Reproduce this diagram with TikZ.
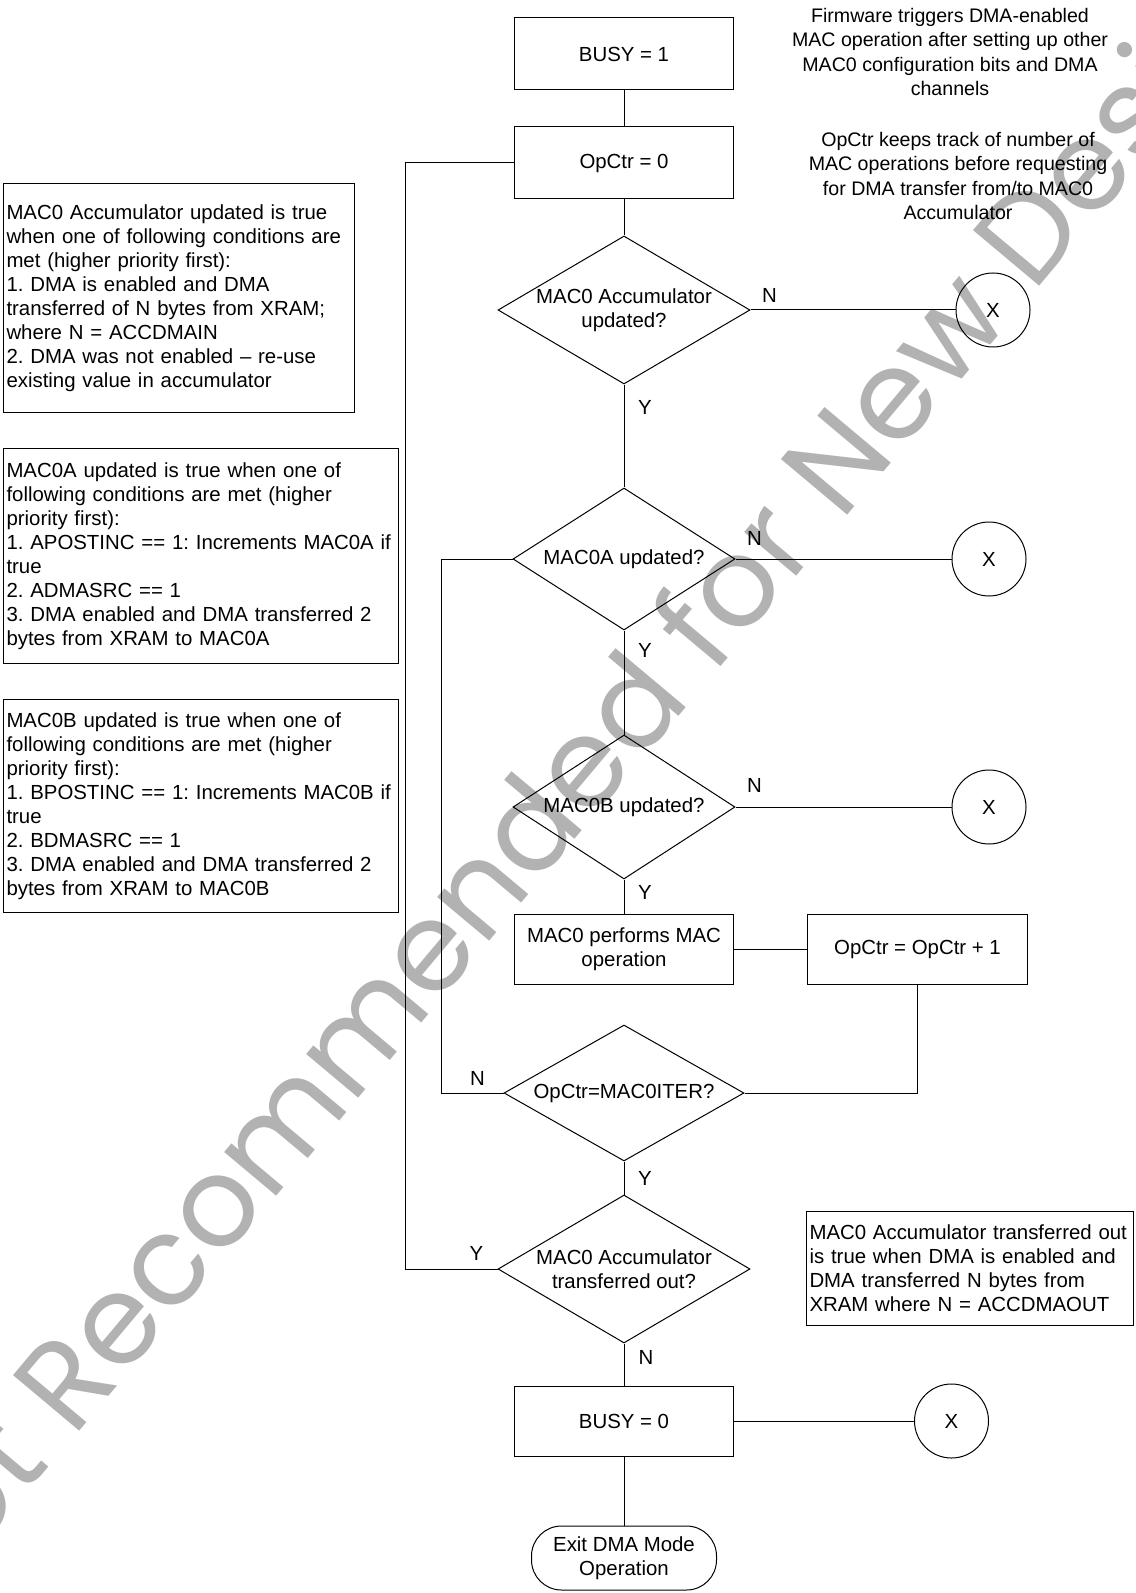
\documentclass[tikz,border=0pt]{standalone}
\usepackage{fontspec}
\setmainfont{Liberation Sans}
\newfontfamily\wmfont{Poppins}
\usetikzlibrary{positioning,shapes.geometric}
\frenchspacing

\begin{document}
\begin{tikzpicture}[
  x=0.5pt, y=-0.5pt,
  font=\fontsize{10.2}{12}\selectfont,
  line width=0.5pt,
  proc/.style={draw, align=center, minimum width=109.5pt, minimum height=36pt, inner sep=2pt},
  dec/.style={draw, diamond, align=center, shape aspect=1.7, inner sep=-2pt},
  conn/.style={draw, circle, minimum size=37pt, inner sep=0pt},
  term/.style={draw, rounded corners=15pt, align=center, minimum width=92.5pt, minimum height=32pt, inner sep=2pt},
  note/.style={draw, anchor=north west, align=left, inner xsep=1.5pt, inner ysep=2pt},
  free/.style={align=center, inner sep=0pt, font=\fontsize{9.8}{12.2}\selectfont},
  lbl/.style={inner sep=0pt},
  wm/.style={font=\wmfont\fontsize{62}{68}\selectfont, text=black!30, rotate=50, inner sep=0pt},
]
\useasboundingbox (0,0) rectangle (1135,1593);
\node[wm] (wmark) at (608,753) {Not Recommended for New Designs};

\node[proc] (busy1) at (624,54) {BUSY = 1};
\node[proc, below=18pt of busy1] (opctr0) {OpCtr = 0};
\node[dec, below=18pt of opctr0, minimum width=126pt, minimum height=74pt] (accupd) {MAC0 Accumulator\\updated?};
\node[dec, below=51.5pt of accupd, minimum width=111pt, minimum height=71pt] (aupd) {MAC0A updated?};
\node[dec, below=52pt of aupd, minimum width=111pt, minimum height=72pt] (bupd) {MAC0B updated?};
\node[proc, below=17pt of bupd, minimum height=35pt] (mac) {MAC0 performs MAC\\operation};
\node[proc, right=36.5pt of mac, minimum width=110pt, minimum height=35pt] (inc) {OpCtr = OpCtr + 1};
\node[dec, below=20pt of mac, minimum width=120pt, minimum height=68pt] (iter) {OpCtr=MAC0ITER?};
\node[dec, below=16.5pt of iter, minimum width=126pt, minimum height=74pt] (accout) {MAC0 Accumulator\\transferred out?};
\node[proc, below=21pt of accout, minimum height=35pt] (busy0) {BUSY = 0};
\node[term, below=34.5pt of busy0] (exitop) {Exit DMA Mode\\Operation};

\node[conn, right=102.5pt of accupd] (x1) {X};
\node[conn, right=108pt of aupd] (x2) {X};
\node[conn, right=108pt of bupd] (x3) {X};
\node[conn, right=90pt of busy0] (x4) {X};

\node[free] (fwnote) at (950,52) {Firmware triggers DMA-enabled\\MAC operation after setting up other\\MAC0 configuration bits and DMA\\channels};
\node[free] (ctrnote) at (958,176) {OpCtr keeps track of number of\\MAC operations before requesting\\for DMA transfer from/to MAC0\\Accumulator};

\node[note, text width=172.5pt, minimum height=114.5pt] (notea) at (3,183) {MAC0 Accumulator updated is true\\when one of following conditions are\\met (higher priority first):\\1. DMA is enabled and DMA\\transferred of N bytes from XRAM;\\where N = ACCDMAIN\\2. DMA was not enabled – re-use\\existing value in accumulator};
\node[note, text width=194.5pt, minimum height=107.5pt] (noteb) at (3,448) {MAC0A updated is true when one of\\following conditions are met (higher\\priority first):\\1. APOSTINC == 1: Increments MAC0A if\\true\\2. ADMASRC == 1\\3. DMA enabled and DMA transferred 2\\bytes from XRAM to MAC0A};
\node[note, text width=194.5pt, minimum height=106.5pt] (notec) at (3,699) {MAC0B updated is true when one of\\following conditions are met (higher\\priority first):\\1. BPOSTINC == 1: Increments MAC0B if\\true\\2. BDMASRC == 1\\3. DMA enabled and DMA transferred 2\\bytes from XRAM to MAC0B};
\node[note, text width=160.5pt, minimum height=57pt] (noted) at (806,1211) {MAC0 Accumulator transferred out\\is true when DMA is enabled and\\DMA transferred N bytes from\\XRAM where N = ACCDMAOUT};

\node[lbl] (n1) at ([shift={(19,-15)}]accupd.east) {N};
\node[lbl] (y1) at ([shift={(21,23)}]accupd.south) {Y};
\node[lbl] (n2) at ([shift={(19,-21)}]aupd.east) {N};
\node[lbl] (y2) at ([shift={(21,20)}]aupd.south) {Y};
\node[lbl] (n3) at ([shift={(19,-22)}]bupd.east) {N};
\node[lbl] (y3) at ([shift={(21,13)}]bupd.south) {Y};
\node[lbl] (n4) at ([shift={(-26,-15)}]iter.west) {N};
\node[lbl] (y4) at ([shift={(21,17)}]iter.south) {Y};
\node[lbl] (y5) at ([shift={(-21,-16)}]accout.west) {Y};
\node[lbl] (n5) at ([shift={(22,14)}]accout.south) {N};

\draw (busy1) -- (opctr0);
\draw (opctr0) -- (accupd);
\draw (accupd) -- (x1);
\draw (accupd) -- (aupd);
\draw (aupd) -- (x2);
\draw (aupd) -- (bupd);
\draw (bupd) -- (x3);
\draw (bupd) -- (mac);
\draw (mac) -- (inc);
\draw (inc.south) |- (iter.east);
\draw (iter.west) -- ++(-62,0) |- (aupd.west);
\draw (iter) -- (accout);
\draw (accout.west) -- ++(-92,0) |- (opctr0.west);
\draw (accout) -- (busy0);
\draw (busy0) -- (x4);
\draw (busy0) -- (exitop);
\end{tikzpicture}
\end{document}
